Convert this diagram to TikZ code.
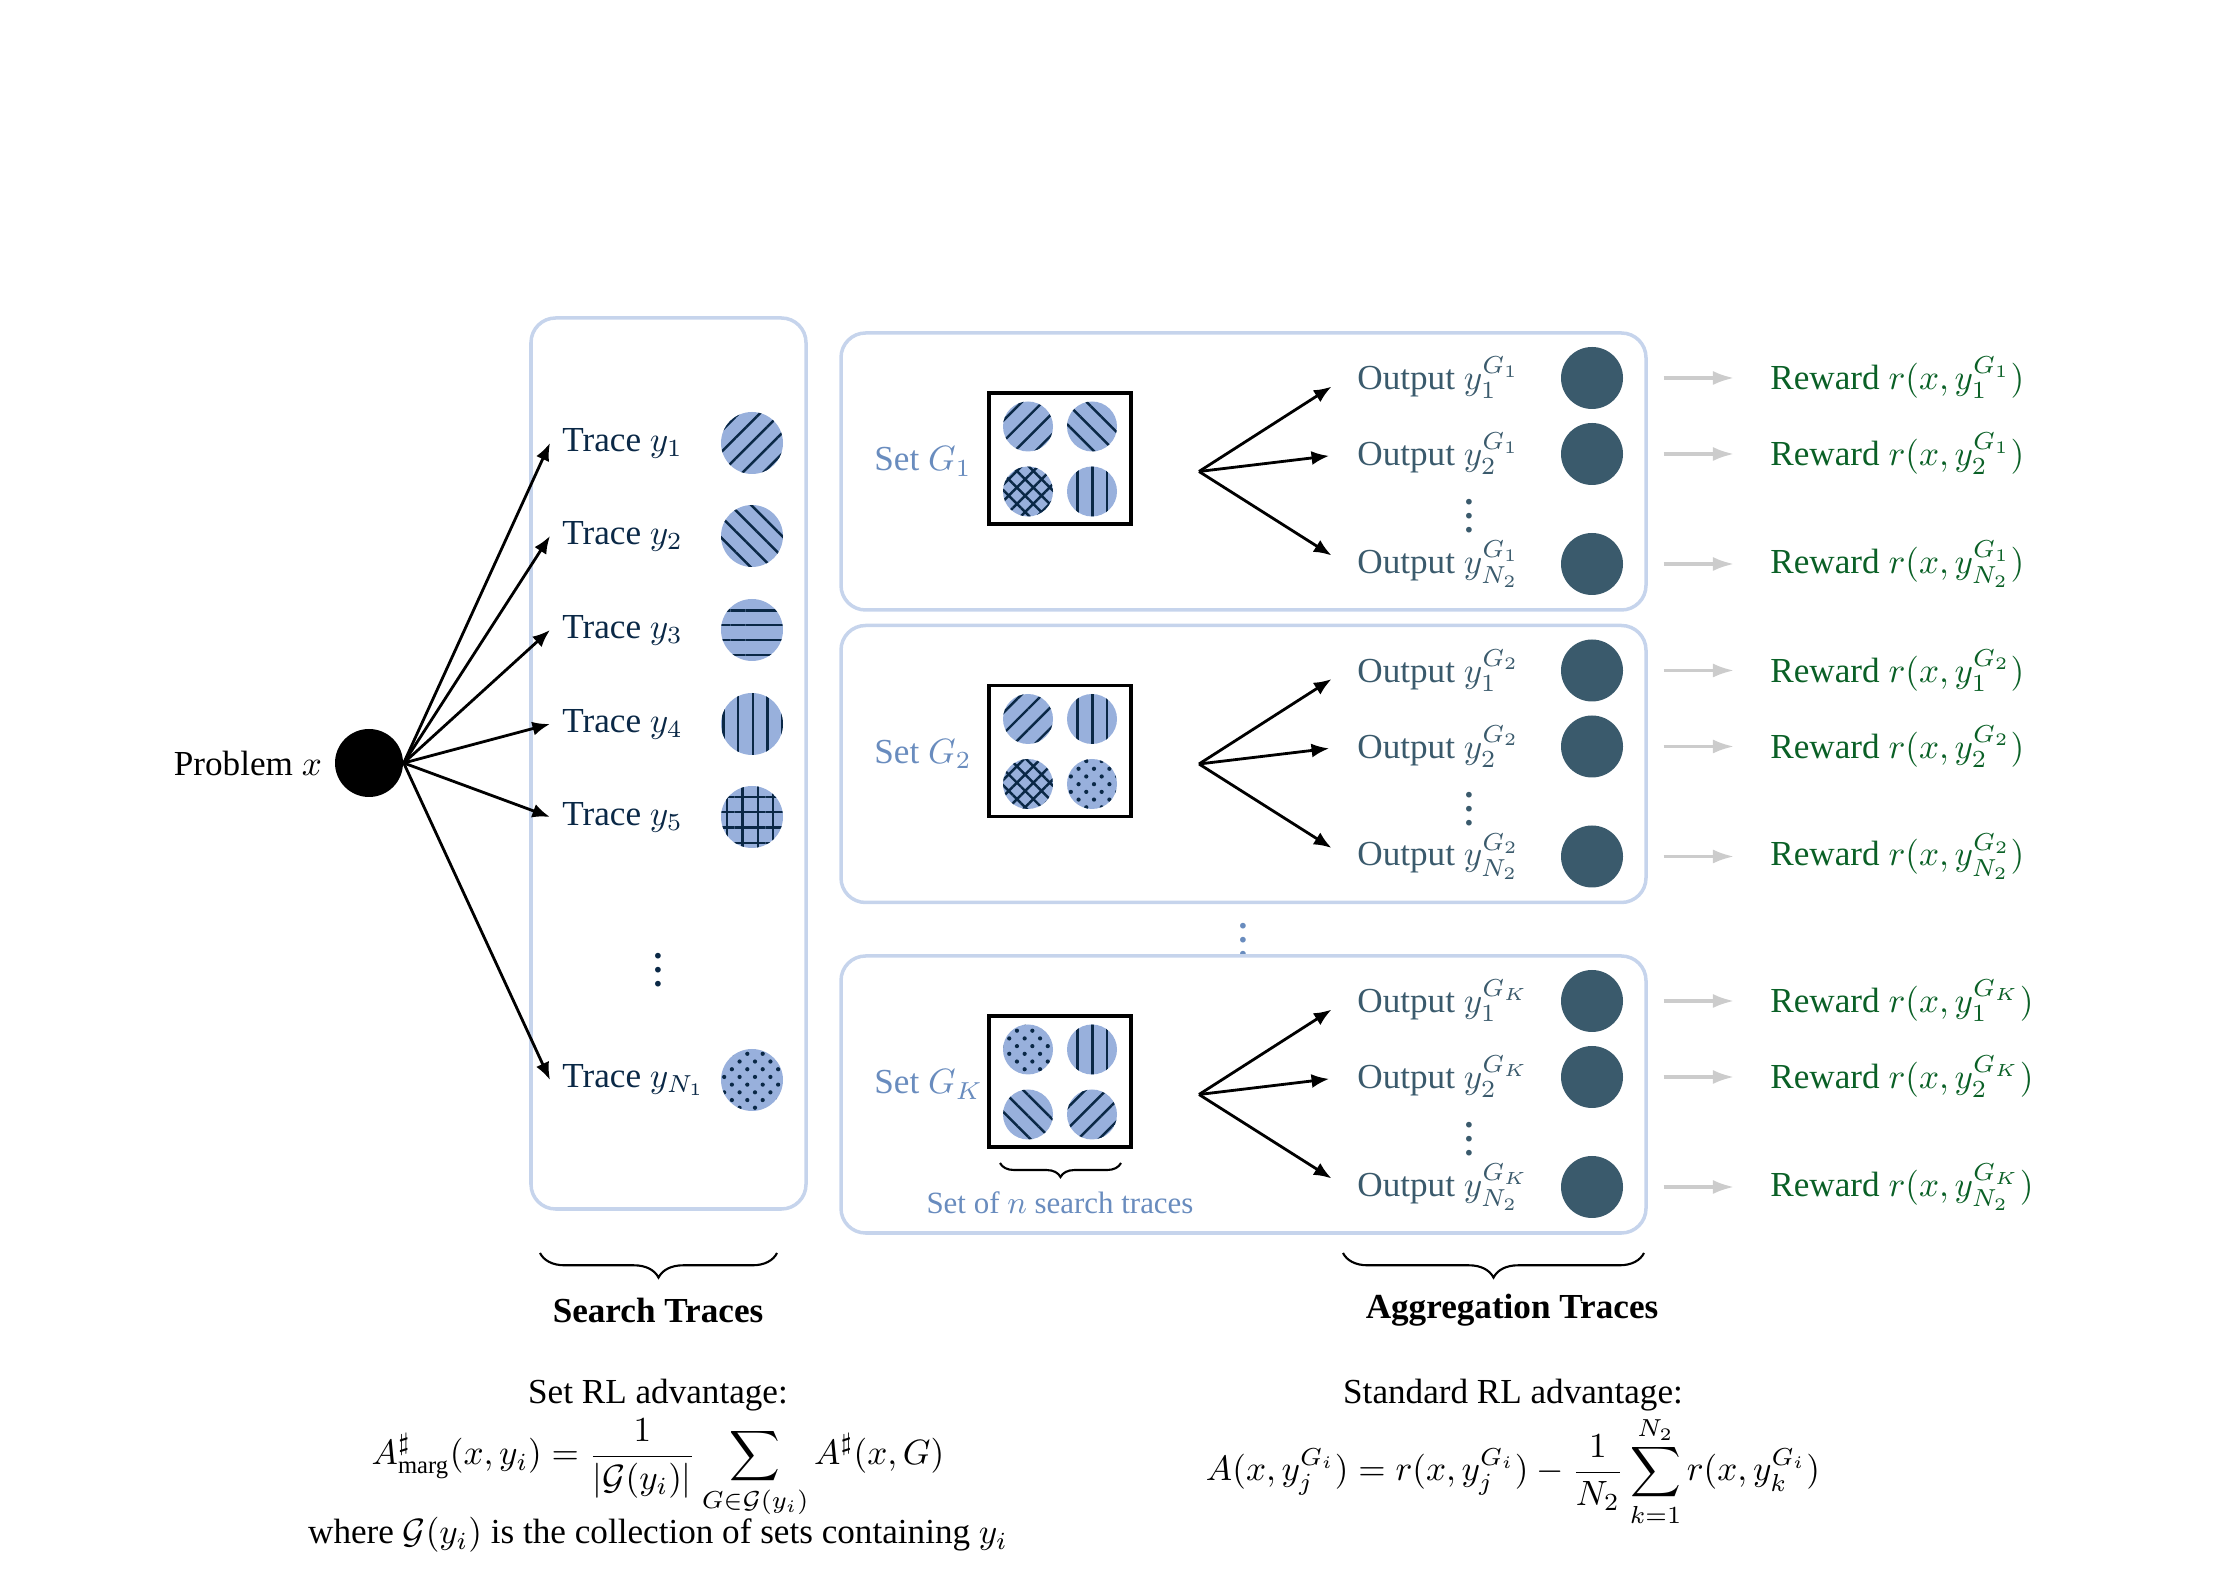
\documentclass[tikz,border=0pt]{standalone}
\usepackage{amsmath,amssymb}
\usepackage[no-math]{fontspec}
\setmainfont{Liberation Serif}
\usepackage{xcolor}
\usepackage{tikz}
\usetikzlibrary{arrows.meta,positioning,patterns.meta,decorations.pathreplacing}

\definecolor{boxline}{RGB}{198,212,236}
\definecolor{tracefill}{RGB}{152,176,220}
\definecolor{navy}{RGB}{10,40,70}
\definecolor{setblue}{RGB}{105,140,190}
\definecolor{slate}{RGB}{58,90,108}
\definecolor{rewardgreen}{RGB}{10,96,38}
\definecolor{arrowgray}{RGB}{204,204,204}

\begin{document}
\begin{tikzpicture}[every node/.style={font=\normalsize},
  panel/.style={draw=boxline,line width=1pt,rounded corners=7pt},
  ball/.style={circle,inner sep=0pt,minimum size=#1,fill=tracefill}, ball/.default=0.62cm,
  linefill/.style={postaction={pattern={Lines[angle=#1,distance=4.2pt,line width=0.7pt]},pattern color=navy}},
  gridfill/.style={postaction={pattern={Hatch[angle=0,distance=4.4pt,line width=0.7pt]},pattern color=navy}},
  crossfill/.style={postaction={pattern={Hatch[angle=45,distance=3.3pt,line width=0.7pt]},pattern color=navy}},
  dotfill/.style={postaction={pattern={Dots[angle=45,distance=3.1pt,radius=0.6pt]},pattern color=navy}},
  vdotsnode/.style={inner sep=0pt,font=\normalsize\bfseries},
  trace/.style={anchor=west,text=navy},
  outlbl/.style={anchor=west,text=slate},
  outdot/.style={circle,inner sep=0pt,minimum size=0.62cm,fill=slate},
  reward/.style={anchor=west,text=rewardgreen},
  arr/.style={-{Latex[length=5pt,width=4pt]},line width=0.8pt},
  fan/.style={arr,shorten >=0.16cm},
  toreward/.style={-{Latex[length=6pt,width=4pt]},draw=arrowgray,line width=0.9pt,shorten <=0.40cm,shorten >=0.24cm},
  setlbl/.style={text=setblue,anchor=west},
  innerbox/.style={draw,line width=1pt,minimum width=1.42cm,minimum height=1.31cm}]
\useasboundingbox (0,0) rectangle (22.25,15.70);

% problem and search traces
\node[circle,fill=black,inner sep=0pt,minimum size=0.68cm] (prob) at (3.69,8.07) {};
\node[left=0pt of prob] (problbl) {Problem $x$};
\node[panel,minimum width=2.75cm,minimum height=8.91cm] (searchbox) at (6.685,8.065) {};
\node[trace] (t1) at (5.50,11.27) {Trace $y_1$}; \node[ball,linefill=45] (c1) at (7.52,11.27) {};
\node[trace] (t2) at (5.50,10.34) {Trace $y_2$}; \node[ball,linefill=-45] (c2) at (7.52,10.34) {};
\node[trace] (t3) at (5.50,9.40) {Trace $y_3$}; \node[ball,linefill=0] (c3) at (7.52,9.40) {};
\node[trace] (t4) at (5.50,8.46) {Trace $y_4$}; \node[ball,linefill=90] (c4) at (7.52,8.46) {};
\node[trace] (t5) at (5.50,7.53) {Trace $y_5$}; \node[ball,gridfill] (c5) at (7.52,7.53) {};
\node[vdotsnode,text=navy] (tdots) at (6.58,6.10) {\vdots};
\node[trace] (tn) at (5.50,4.90) {Trace $y_{N_1}$}; \node[ball,dotfill] (cn) at (7.52,4.90) {};
\draw[arr] (prob.east)--(t1.west); \draw[arr] (prob.east)--(t2.west); \draw[arr] (prob.east)--(t3.west);
\draw[arr] (prob.east)--(t4.west); \draw[arr] (prob.east)--(t5.west); \draw[arr] (prob.east)--(tn.west);

% set G1
\node[panel,minimum width=8.05cm,minimum height=2.77cm] (g1box) at (12.435,10.985) {};
\node[innerbox] (g1set) at (10.60,11.115) {};
\node[ball=0.5cm,linefill=45] (g1a) at (10.28,11.435) {}; \node[ball=0.5cm,linefill=-45] (g1b) at (10.92,11.435) {};
\node[ball=0.5cm,crossfill] (g1c) at (10.28,10.785) {}; \node[ball=0.5cm,linefill=90] (g1d) at (10.92,10.785) {};
\node[setlbl] (g1lbl) at (8.62,11.085) {Set $G_1$};
\coordinate (f1) at (11.99,10.985);
\node[outlbl] (o11) at (13.45,11.92) {Output $y_1^{G_1}$}; \node[outdot] (d11) at (15.92,11.92) {};
\node[outlbl] (o12) at (13.45,11.16) {Output $y_2^{G_1}$}; \node[outdot] (d12) at (15.92,11.16) {};
\node[outlbl] (o13) at (13.45,10.06) {Output $y_{N_2}^{G_1}$}; \node[outdot] (d13) at (15.92,10.06) {};
\node[vdotsnode,text=slate] (o1dots) at (14.69,10.64) {\vdots};
\draw[fan] (f1)--(o11.west); \draw[fan] (f1)--(o12.west); \draw[fan] (f1)--(o13.west);
\node[reward] (r11) at (17.58,11.92) {Reward $r(x,y_1^{G_1})$};
\node[reward] (r12) at (17.58,11.16) {Reward $r(x,y_2^{G_1})$};
\node[reward] (r13) at (17.58,10.06) {Reward $r(x,y_{N_2}^{G_1})$};
\draw[toreward] (d11.east)--(r11.west); \draw[toreward] (d12.east)--(r12.west); \draw[toreward] (d13.east)--(r13.west);

% set G2
\node[panel,minimum width=8.05cm,minimum height=2.77cm] (g2box) at (12.435,8.06) {};
\node[innerbox] (g2set) at (10.60,8.19) {};
\node[ball=0.5cm,linefill=45] (g2a) at (10.28,8.51) {}; \node[ball=0.5cm,linefill=90] (g2b) at (10.92,8.51) {};
\node[ball=0.5cm,crossfill] (g2c) at (10.28,7.86) {}; \node[ball=0.5cm,dotfill] (g2d) at (10.92,7.86) {};
\node[setlbl] (g2lbl) at (8.62,8.16) {Set $G_2$};
\coordinate (f2) at (11.99,8.06);
\node[outlbl] (o21) at (13.45,8.995) {Output $y_1^{G_2}$}; \node[outdot] (d21) at (15.92,8.995) {};
\node[outlbl] (o22) at (13.45,8.235) {Output $y_2^{G_2}$}; \node[outdot] (d22) at (15.92,8.235) {};
\node[outlbl] (o23) at (13.45,7.135) {Output $y_{N_2}^{G_2}$}; \node[outdot] (d23) at (15.92,7.135) {};
\node[vdotsnode,text=slate] (o2dots) at (14.69,7.715) {\vdots};
\draw[fan] (f2)--(o21.west); \draw[fan] (f2)--(o22.west); \draw[fan] (f2)--(o23.west);
\node[reward] (r21) at (17.58,8.995) {Reward $r(x,y_1^{G_2})$};
\node[reward] (r22) at (17.58,8.235) {Reward $r(x,y_2^{G_2})$};
\node[reward] (r23) at (17.58,7.135) {Reward $r(x,y_{N_2}^{G_2})$};
\draw[toreward] (d21.east)--(r21.west); \draw[toreward] (d22.east)--(r22.west); \draw[toreward] (d23.east)--(r23.west);

\node[vdotsnode,text=setblue] (setdots) at (12.43,6.40) {\vdots};

% set GK
\node[panel,minimum width=8.05cm,minimum height=2.77cm] (gkbox) at (12.435,4.755) {};
\node[innerbox] (gkset) at (10.60,4.885) {};
\node[ball=0.5cm,dotfill] (gka) at (10.28,5.205) {}; \node[ball=0.5cm,linefill=90] (gkb) at (10.92,5.205) {};
\node[ball=0.5cm,linefill=-45] (gkc) at (10.28,4.555) {}; \node[ball=0.5cm,linefill=45] (gkd) at (10.92,4.555) {};
\node[setlbl] (gklbl) at (8.62,4.855) {Set $G_K$};
\draw[decorate,decoration={brace,mirror,amplitude=4pt},line width=0.6pt] (10.00,4.07)--(11.21,4.07);
\node[setlbl,anchor=center,font=\fontsize{8.8}{10}\selectfont] (setof) at (10.60,3.67) {Set of $n$ search traces};
\coordinate (fk) at (11.99,4.755);
\node[outlbl] (ok1) at (13.45,5.69) {Output $y_1^{G_K}$}; \node[outdot] (dk1) at (15.92,5.69) {};
\node[outlbl] (ok2) at (13.45,4.93) {Output $y_2^{G_K}$}; \node[outdot] (dk2) at (15.92,4.93) {};
\node[outlbl] (ok3) at (13.45,3.83) {Output $y_{N_2}^{G_K}$}; \node[outdot] (dk3) at (15.92,3.83) {};
\node[vdotsnode,text=slate] (okdots) at (14.69,4.41) {\vdots};
\draw[fan] (fk)--(ok1.west); \draw[fan] (fk)--(ok2.west); \draw[fan] (fk)--(ok3.west);
\node[reward] (rk1) at (17.58,5.69) {Reward $r(x,y_1^{G_K})$};
\node[reward] (rk2) at (17.58,4.93) {Reward $r(x,y_2^{G_K})$};
\node[reward] (rk3) at (17.58,3.83) {Reward $r(x,y_{N_2}^{G_K})$};
\draw[toreward] (dk1.east)--(rk1.west); \draw[toreward] (dk2.east)--(rk2.west); \draw[toreward] (dk3.east)--(rk3.west);

% braces and advantages
\draw[decorate,decoration={brace,mirror,amplitude=7pt},line width=0.6pt] (5.40,3.17)--(7.77,3.17);
\draw[decorate,decoration={brace,mirror,amplitude=7pt},line width=0.6pt] (13.43,3.17)--(16.44,3.17);
\node[font=\bfseries] (searchlbl) at (6.58,2.60) {Search Traces};
\node[font=\bfseries] (agglbl) at (15.12,2.60) {Aggregation Traces};
\node (setadv) at (6.58,1.75) {Set RL advantage:};
\node[anchor=base] (setform) at (6.58,1.05) {$\displaystyle A^{\sharp}_{\text{marg}}(x,y_i)=\frac{1}{|\mathcal{G}(y_i)|}\sum_{G\in\mathcal{G}(y_i)}A^{\sharp}(x,G)$};
\node (setnote) at (6.58,0.35) {where $\mathcal{G}(y_i)$ is the collection of sets containing $y_i$};
\node (stdadv) at (15.13,1.75) {Standard RL advantage:};
\node[anchor=base] (stdform) at (15.13,0.89) {$\displaystyle A(x,y_j^{G_i})=r(x,y_j^{G_i})-\frac{1}{N_2}\sum_{k=1}^{N_2}r(x,y_k^{G_i})$};
\end{tikzpicture}
\end{document}
